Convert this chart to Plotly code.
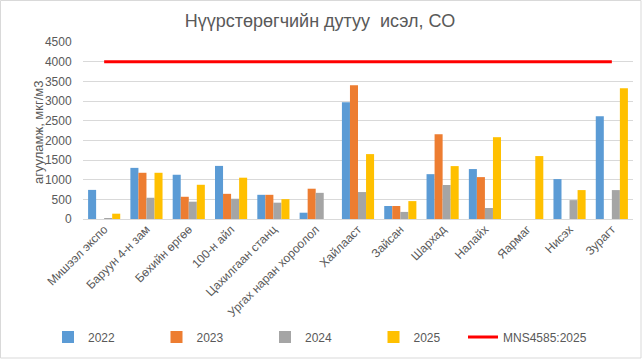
import plotly.graph_objects as go

categories = ["Мишээл экспо", "Баруун 4-н зам", "Бөхийн өргөө", "100-н айл",
              "Цахилгаан станц", "Ургах наран хороолол", "Хайлааст", "Зайсан",
              "Шархад", "Налайх", "Яармаг", "Нисэх", "Зурагт"]
v2022 = [740, 1300, 1125, 1350, 615, 160, 2970, 330, 1140, 1270, None, 1015, 2615]
v2023 = [None, 1175, 565, 640, 615, 770, 3400, 330, 2155, 1065, None, None, None]
v2024 = [25, 540, 440, 515, 415, 665, 685, 180, 865, 280, None, 480, 735]
v2025 = [135, 1175, 870, 1050, 505, None, 1650, 455, 1345, 2080, 1600, 735, 3325]
standard = [4000] * len(categories)

series = [("2022", v2022, "#5B9BD5"), ("2023", v2023, "#ED7D31"),
          ("2024", v2024, "#A5A5A5"), ("2025", v2025, "#FFC000")]

fig = go.Figure()
for name, vals, color in series:
    fig.add_trace(go.Bar(x=categories, y=vals, name=name, marker_color=color,
                         marker_line_width=0, legend="legend"))
fig.add_trace(go.Scatter(x=categories, y=standard, name="MNS4585:2025", mode="lines",
                         line=dict(color="#FF0000", width=3), legend="legend2"))

W, H = 643, 359
L, R, T, B = 83, 10, 42, 140
pw, ph = W - L - R, H - T - B

def px2x(px):
    return (px - L) / pw

def py2y(py):
    return (H - B - py) / ph

fig.add_shape(type="rect", xref="paper", yref="paper",
              x0=px2x(0.5), x1=px2x(641), y0=py2y(0.5), y1=py2y(358),
              line=dict(color="#D9D9D9", width=1), fillcolor="rgba(0,0,0,0)", layer="below")

font_color = "#595959"
fig.add_annotation(text="агууламж, мкг/м3", xref="paper", yref="paper",
                   x=px2x(38), y=py2y(132), xanchor="center", yanchor="middle",
                   textangle=-90, showarrow=False, font=dict(size=13, color=font_color))

legend_common = dict(orientation="h", xanchor="left", yanchor="middle", y=py2y(337),
                     font=dict(size=12, color=font_color), bgcolor="rgba(0,0,0,0)",
                     traceorder="normal", itemwidth=30)

fig.update_layout(
    width=W, height=H,
    margin=dict(l=L, r=R, t=T, b=B, autoexpand=False),
    paper_bgcolor="white", plot_bgcolor="white",
    font=dict(family="Liberation Sans, Arial, sans-serif", size=12, color=font_color),
    title=dict(text="Нүүрстөрөгчийн дутуу  исэл, СО", x=320 / W, xref="container",
               xanchor="center", y=1 - 21 / H, yanchor="middle",
               font=dict(size=18, color=font_color)),
    barmode="group", bargap=0.24, bargroupgap=0,
    showlegend=True,
    legend=dict(x=px2x(48), entrywidth=63.5, entrywidthmode="pixels", **legend_common),
    legend2=dict(x=px2x(463), **legend_common),
)
fig.update_xaxes(type="category", tickangle=-45, showgrid=False, showline=False,
                 ticks="", tickfont=dict(size=12, color=font_color))
fig.update_yaxes(range=[0, 4500], dtick=500, showgrid=True, gridcolor="#D9D9D9", gridwidth=1,
                 zeroline=True, zerolinecolor="#D9D9D9", zerolinewidth=1,
                 ticks="outside", ticklen=8, tickcolor="rgba(0,0,0,0)",
                 tickfont=dict(size=12, color=font_color))

fig.write_html("out.html", config={"displayModeBar": False},
               post_script="document.body.style.margin='0';document.body.style.overflow='hidden';")
